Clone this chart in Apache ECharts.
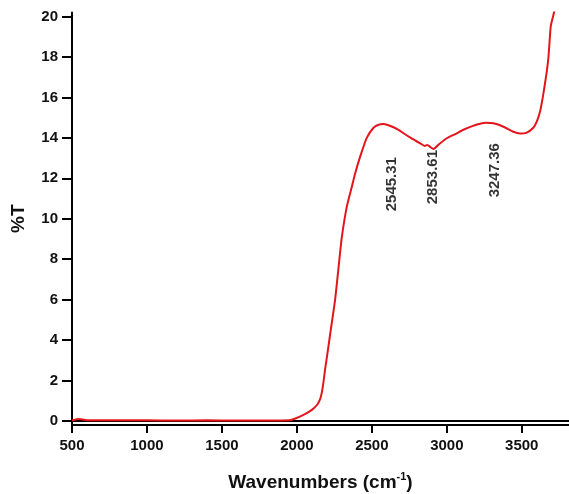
<!DOCTYPE html>
<html><head><meta charset="utf-8">
<script src="https://cdn.jsdelivr.net/npm/echarts@6/dist/echarts.min.js"></script>
<style>html,body{margin:0;padding:0;background:#fff}#c{width:569px;height:494px}</style>
</head><body><div id="c"></div>
<script>
const wavenumbers = [500, 540, 560, 600, 800, 1000, 1200, 1400, 1600, 1800, 1950, 1990, 2044, 2080, 2111, 2140, 2160, 2175, 2189, 2205, 2222, 2255, 2278, 2300, 2333, 2367, 2389, 2422, 2466, 2511, 2545, 2578, 2620, 2678, 2711, 2760, 2822, 2853, 2870, 2890, 2911, 2950, 3000, 3060, 3111, 3170, 3222, 3260, 3311, 3378, 3444, 3489, 3530, 3577, 3600, 3622, 3640, 3655, 3667, 3678, 3693, 3705, 3715, 3725];
const transmittance = [0.02, 0.1, 0.08, 0.04, 0.03, 0.03, 0.02, 0.03, 0.02, 0.02, 0.03, 0.12, 0.3, 0.45, 0.62, 0.85, 1.2, 1.8, 2.6, 3.4, 4.3, 6.0, 7.6, 9.1, 10.6, 11.6, 12.25, 13.07, 14.0, 14.5, 14.65, 14.68, 14.6, 14.4, 14.23, 14.0, 13.73, 13.6, 13.65, 13.55, 13.45, 13.7, 13.98, 14.2, 14.4, 14.58, 14.7, 14.75, 14.72, 14.55, 14.3, 14.22, 14.25, 14.5, 14.8, 15.3, 16.0, 16.7, 17.3, 18.0, 19.5, 19.9, 20.2, 20.6];
const yTicks = [0, 2, 4, 6, 8, 10, 12, 14, 16, 18, 20];
const peakLabels = ["2545.31", "2853.61", "3247.36"];
const peakLabelX = [2632, 2909, 3322];
const peakLabelY = [13.05, 13.4, 13.74];

const chart = echarts.init(document.getElementById('c'));
const font = 'Liberation Sans, Arial, sans-serif';
chart.setOption({
  animation: false,
  grid: { left: 72, right: 0, top: 12.5, bottom: 69, outerBoundsMode: 'none', containLabel: false },
  xAxis: [{
    type: 'value', min: 500, max: 3815, interval: 500,
    name: '{n|Wavenumbers (cm}{s|-1}{n|)}', nameLocation: 'middle', nameGap: 46,
    nameTextStyle: { rich: { n: { fontFamily: font, fontWeight: 'bold', fontSize: 19, color: '#111', verticalAlign: 'bottom' }, s: { fontFamily: font, fontWeight: 'bold', fontSize: 11, color: '#111', verticalAlign: 'top', padding: [0, 0, 10, 0] } } },
    axisLine: { show: true, onZero: false, lineStyle: { color: '#000', width: 2 } },
    axisTick: { show: true, length: 8, lineStyle: { color: '#000', width: 2 } },
    axisLabel: { fontFamily: font, fontWeight: 'bold', fontSize: 15, color: '#111', margin: 13, showMaxLabel: false, formatter: v => String(v) },
    splitLine: { show: false }
  }, {
    type: 'value', position: 'top', min: 500, max: 3815,
    axisLine: { show: true, lineStyle: { color: '#000', width: 2 } },
    axisTick: { show: false }, axisLabel: { show: false }, splitLine: { show: false }
  }],
  yAxis: {
    type: 'value', min: -0.2, max: 20.2,
    name: '%T', nameLocation: 'middle', nameGap: 44,
    nameTextStyle: { fontFamily: font, fontWeight: 'bold', fontSize: 19, color: '#111' },
    axisLine: { show: true, onZero: false, lineStyle: { color: '#000', width: 2 } },
    axisTick: { show: true, length: 10, lineStyle: { color: '#000', width: 2 }, customValues: yTicks },
    axisLabel: { fontFamily: font, fontWeight: 'bold', fontSize: 15, color: '#111', margin: 14, customValues: yTicks },
    splitLine: { show: false }
  },
  series: [{
    type: 'line', data: wavenumbers.map((w, i) => [w, transmittance[i]]),
    showSymbol: false, smooth: 0.2, clip: true,
    lineStyle: { color: '#e3151b', width: 2 }
  }, {
    type: 'scatter', symbolSize: 0,
    data: peakLabelX.map((x, i) => ({ value: [x, peakLabelY[i]], name: peakLabels[i] })),
    label: { show: true, formatter: p => p.name, rotate: 90, position: 'inside', align: 'right', verticalAlign: 'middle',
      fontFamily: font, fontWeight: 'bold', fontSize: 15, color: '#000' }
  }]
});
</script></body></html>
